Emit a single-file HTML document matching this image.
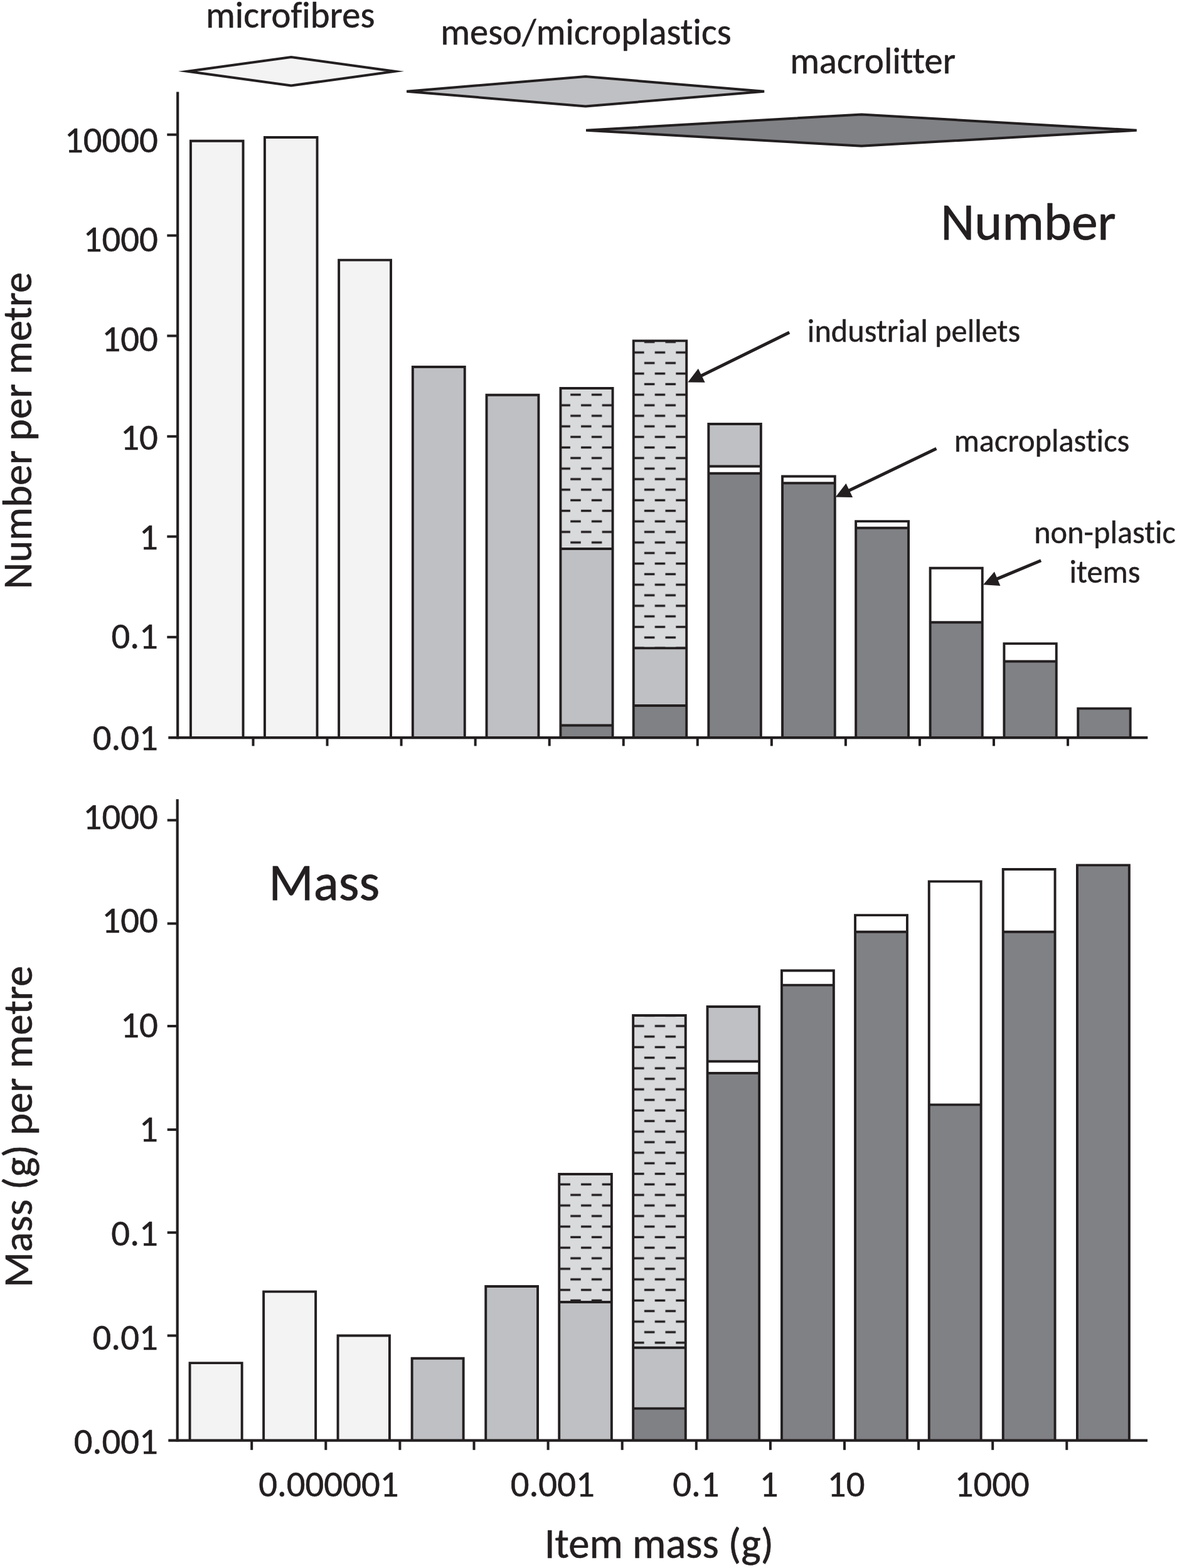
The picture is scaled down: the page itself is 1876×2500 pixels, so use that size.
<!DOCTYPE html><html><head><meta charset="utf-8"><title>Number and mass of litter items per metre by item mass</title><style>html,body{margin:0;padding:0;background:#fff;}svg{display:block;} text{font-variant-ligatures:none;font-kerning:normal;stroke:#231f20;stroke-linejoin:round;}</style></head><body>
<svg width="1876" height="2500" viewBox="0 0 1876 2500" font-family="Carlito, 'Liberation Sans', Arial, sans-serif" fill="#231f20">
<defs>
<pattern id="patT" patternUnits="userSpaceOnUse" x="909.10" y="620.90" width="33.62" height="33.66"><rect width="33.62" height="33.66" fill="#d9dadc"/><rect x="0.15" y="6.65" width="16.5" height="3.5" fill="#231f20"/><rect x="16.96" y="23.48" width="16.5" height="3.5" fill="#231f20"/></pattern>
<pattern id="patB" patternUnits="userSpaceOnUse" x="909.10" y="1627.50" width="33.62" height="33.66"><rect width="33.62" height="33.66" fill="#d9dadc"/><rect x="0.15" y="6.65" width="16.5" height="3.5" fill="#231f20"/><rect x="16.96" y="23.48" width="16.5" height="3.5" fill="#231f20"/></pattern>
</defs>
<rect width="1876" height="2500" fill="#fff"/>
<path d="M298.8 113.8L464.1 91.0L629.3 113.8L464.1 136.4Z" fill="#f3f3f3" stroke="#231f20" stroke-width="4.0" stroke-miterlimit="10"/>
<path d="M648.2 145.7L933.3 122.0L1218.1 145.8L933.3 169.5Z" fill="#bfc0c3" stroke="#231f20" stroke-width="4.0" stroke-miterlimit="10"/>
<path d="M934.1 207.8L1373.1 182.4L1811.7 207.8L1373.1 232.8Z" fill="#808185" stroke="#231f20" stroke-width="4.0" stroke-miterlimit="10"/>
<text x="327.94" y="43.80" font-size="58.7" stroke-width="0.53" textLength="269.42" lengthAdjust="spacingAndGlyphs">microfibres</text>
<text x="702.14" y="70.80" font-size="58.7" stroke-width="0.53" textLength="463.55" lengthAdjust="spacingAndGlyphs">meso/microplastics</text>
<text x="1259.14" y="116.80" font-size="58.8" stroke-width="0.53" textLength="263.97" lengthAdjust="spacingAndGlyphs">macrolitter</text>
<rect x="303.95" y="224.75" width="83.60" height="951.45" fill="#f3f3f3"/>
<path d="M303.95 1176.20V224.75H387.55V1176.20" fill="none" stroke="#231f20" stroke-width="3.9" stroke-linejoin="miter"/>
<rect x="421.95" y="218.95" width="83.60" height="957.25" fill="#f3f3f3"/>
<path d="M421.95 1176.20V218.95H505.55V1176.20" fill="none" stroke="#231f20" stroke-width="3.9" stroke-linejoin="miter"/>
<rect x="540.15" y="414.65" width="82.90" height="761.55" fill="#f3f3f3"/>
<path d="M540.15 1176.20V414.65H623.05V1176.20" fill="none" stroke="#231f20" stroke-width="3.9" stroke-linejoin="miter"/>
<rect x="657.85" y="584.95" width="82.90" height="591.25" fill="#bfc0c3"/>
<path d="M657.85 1176.20V584.95H740.75V1176.20" fill="none" stroke="#231f20" stroke-width="3.9" stroke-linejoin="miter"/>
<rect x="775.55" y="629.75" width="82.90" height="546.45" fill="#bfc0c3"/>
<path d="M775.55 1176.20V629.75H858.45V1176.20" fill="none" stroke="#231f20" stroke-width="3.9" stroke-linejoin="miter"/>
<rect x="893.45" y="619.05" width="83.10" height="255.95" fill="url(#patT)"/>
<rect x="893.45" y="875.00" width="83.10" height="281.50" fill="#bfc0c3"/>
<rect x="893.45" y="1156.50" width="83.10" height="19.70" fill="#808185"/>
<line x1="893.45" x2="976.55" y1="875.00" y2="875.00" stroke="#231f20" stroke-width="3.9"/>
<line x1="893.45" x2="976.55" y1="1156.50" y2="1156.50" stroke="#231f20" stroke-width="3.9"/>
<path d="M893.45 1176.20V619.05H976.55V1176.20" fill="none" stroke="#231f20" stroke-width="3.9" stroke-linejoin="miter"/>
<rect x="1009.75" y="543.35" width="84.50" height="490.05" fill="url(#patT)"/>
<rect x="1009.75" y="1033.40" width="84.50" height="91.60" fill="#bfc0c3"/>
<rect x="1009.75" y="1125.00" width="84.50" height="51.20" fill="#808185"/>
<line x1="1009.75" x2="1094.25" y1="1033.40" y2="1033.40" stroke="#231f20" stroke-width="3.9"/>
<line x1="1009.75" x2="1094.25" y1="1125.00" y2="1125.00" stroke="#231f20" stroke-width="3.9"/>
<path d="M1009.75 1176.20V543.35H1094.25V1176.20" fill="none" stroke="#231f20" stroke-width="3.9" stroke-linejoin="miter"/>
<rect x="1129.35" y="676.05" width="83.50" height="67.45" fill="#bfc0c3"/>
<rect x="1129.35" y="743.50" width="83.50" height="11.30" fill="#ffffff"/>
<rect x="1129.35" y="754.80" width="83.50" height="421.40" fill="#808185"/>
<line x1="1129.35" x2="1212.85" y1="743.50" y2="743.50" stroke="#231f20" stroke-width="3.9"/>
<line x1="1129.35" x2="1212.85" y1="754.80" y2="754.80" stroke="#231f20" stroke-width="3.9"/>
<path d="M1129.35 1176.20V676.05H1212.85V1176.20" fill="none" stroke="#231f20" stroke-width="3.9" stroke-linejoin="miter"/>
<rect x="1247.05" y="759.55" width="83.70" height="10.65" fill="#ffffff"/>
<rect x="1247.05" y="770.20" width="83.70" height="406.00" fill="#808185"/>
<line x1="1247.05" x2="1330.75" y1="770.20" y2="770.20" stroke="#231f20" stroke-width="3.9"/>
<path d="M1247.05 1176.20V759.55H1330.75V1176.20" fill="none" stroke="#231f20" stroke-width="3.9" stroke-linejoin="miter"/>
<rect x="1364.15" y="831.15" width="83.90" height="10.55" fill="#ffffff"/>
<rect x="1364.15" y="841.70" width="83.90" height="334.50" fill="#808185"/>
<line x1="1364.15" x2="1448.05" y1="841.70" y2="841.70" stroke="#231f20" stroke-width="3.9"/>
<path d="M1364.15 1176.20V831.15H1448.05V1176.20" fill="none" stroke="#231f20" stroke-width="3.9" stroke-linejoin="miter"/>
<rect x="1482.65" y="905.75" width="83.10" height="86.45" fill="#ffffff"/>
<rect x="1482.65" y="992.20" width="83.10" height="184.00" fill="#808185"/>
<line x1="1482.65" x2="1565.75" y1="992.20" y2="992.20" stroke="#231f20" stroke-width="3.9"/>
<path d="M1482.65 1176.20V905.75H1565.75V1176.20" fill="none" stroke="#231f20" stroke-width="3.9" stroke-linejoin="miter"/>
<rect x="1600.45" y="1026.15" width="83.30" height="28.35" fill="#ffffff"/>
<rect x="1600.45" y="1054.50" width="83.30" height="121.70" fill="#808185"/>
<line x1="1600.45" x2="1683.75" y1="1054.50" y2="1054.50" stroke="#231f20" stroke-width="3.9"/>
<path d="M1600.45 1176.20V1026.15H1683.75V1176.20" fill="none" stroke="#231f20" stroke-width="3.9" stroke-linejoin="miter"/>
<rect x="1718.25" y="1129.65" width="83.40" height="46.55" fill="#808185"/>
<path d="M1718.25 1176.20V1129.65H1801.65V1176.20" fill="none" stroke="#231f20" stroke-width="3.9" stroke-linejoin="miter"/>
<line x1="283.2" y1="146.5" x2="283.2" y2="1178.2" stroke="#231f20" stroke-width="4.2"/>
<line x1="268.3" y1="1176.2" x2="1829.3" y2="1176.2" stroke="#231f20" stroke-width="4.2"/>
<line x1="266.3" y1="214.7" x2="283.2" y2="214.7" stroke="#231f20" stroke-width="4.0"/>
<line x1="266.3" y1="375.5" x2="283.2" y2="375.5" stroke="#231f20" stroke-width="4.0"/>
<line x1="266.3" y1="535.5" x2="283.2" y2="535.5" stroke="#231f20" stroke-width="4.0"/>
<line x1="266.3" y1="695.8" x2="283.2" y2="695.8" stroke="#231f20" stroke-width="4.0"/>
<line x1="266.3" y1="855.5" x2="283.2" y2="855.5" stroke="#231f20" stroke-width="4.0"/>
<line x1="266.3" y1="1015.8" x2="283.2" y2="1015.8" stroke="#231f20" stroke-width="4.0"/>
<line x1="403.50" y1="1176.2" x2="403.50" y2="1189.4" stroke="#231f20" stroke-width="4.0"/>
<line x1="521.55" y1="1176.2" x2="521.55" y2="1189.4" stroke="#231f20" stroke-width="4.0"/>
<line x1="639.60" y1="1176.2" x2="639.60" y2="1189.4" stroke="#231f20" stroke-width="4.0"/>
<line x1="757.65" y1="1176.2" x2="757.65" y2="1189.4" stroke="#231f20" stroke-width="4.0"/>
<line x1="875.70" y1="1176.2" x2="875.70" y2="1189.4" stroke="#231f20" stroke-width="4.0"/>
<line x1="993.75" y1="1176.2" x2="993.75" y2="1189.4" stroke="#231f20" stroke-width="4.0"/>
<line x1="1111.80" y1="1176.2" x2="1111.80" y2="1189.4" stroke="#231f20" stroke-width="4.0"/>
<line x1="1229.85" y1="1176.2" x2="1229.85" y2="1189.4" stroke="#231f20" stroke-width="4.0"/>
<line x1="1347.90" y1="1176.2" x2="1347.90" y2="1189.4" stroke="#231f20" stroke-width="4.0"/>
<line x1="1465.95" y1="1176.2" x2="1465.95" y2="1189.4" stroke="#231f20" stroke-width="4.0"/>
<line x1="1584.00" y1="1176.2" x2="1584.00" y2="1189.4" stroke="#231f20" stroke-width="4.0"/>
<line x1="1702.05" y1="1176.2" x2="1702.05" y2="1189.4" stroke="#231f20" stroke-width="4.0"/>
<text x="102.89" y="243.00" font-size="58.8" stroke-width="0.53" textLength="149.01" lengthAdjust="spacingAndGlyphs">10000</text>
<text x="132.69" y="401.40" font-size="58.8" stroke-width="0.53" textLength="119.21" lengthAdjust="spacingAndGlyphs">1000</text>
<text x="162.49" y="559.80" font-size="58.8" stroke-width="0.53" textLength="89.41" lengthAdjust="spacingAndGlyphs">100</text>
<text x="192.30" y="717.40" font-size="58.8" stroke-width="0.53" textLength="59.60" lengthAdjust="spacingAndGlyphs">10</text>
<text x="222.10" y="875.70" font-size="58.8" stroke-width="0.53" textLength="29.80" lengthAdjust="spacingAndGlyphs">1</text>
<text x="177.45" y="1033.70" font-size="58.8" stroke-width="0.53" textLength="74.45" lengthAdjust="spacingAndGlyphs">0.1</text>
<text x="147.65" y="1196.00" font-size="58.8" stroke-width="0.53" textLength="104.25" lengthAdjust="spacingAndGlyphs">0.01</text>
<text x="1499.34" y="381.90" font-size="83.6" stroke-width="0.75" textLength="279.33" lengthAdjust="spacingAndGlyphs">Number</text>
<text x="50.50" y="939.41" font-size="66.3" stroke-width="0.60" textLength="505.47" lengthAdjust="spacingAndGlyphs" transform="rotate(-90 50.50 939.41)">Number per metre</text>
<text x="1286.83" y="545.30" font-size="50.4" stroke-width="0.45" textLength="339.36" lengthAdjust="spacingAndGlyphs">industrial pellets</text>
<line x1="1258.20" y1="530.00" x2="1117.39" y2="599.14" stroke="#231f20" stroke-width="5.0"/>
<path d="M1096.30 609.50L1123.69 609.70L1112.89 587.71Z" fill="#231f20"/>
<text x="1520.65" y="719.60" font-size="50.4" stroke-width="0.45" textLength="279.49" lengthAdjust="spacingAndGlyphs">macroplastics</text>
<line x1="1492.50" y1="715.30" x2="1352.88" y2="782.33" stroke="#231f20" stroke-width="5.0"/>
<path d="M1331.70 792.50L1359.09 792.94L1348.48 770.85Z" fill="#231f20"/>
<text x="1648.20" y="866.00" font-size="50.4" stroke-width="0.45" textLength="225.69" lengthAdjust="spacingAndGlyphs">non-plastic</text>
<text x="1704.53" y="929.00" font-size="50.4" stroke-width="0.45" textLength="112.96" lengthAdjust="spacingAndGlyphs">items</text>
<line x1="1659.20" y1="893.70" x2="1588.78" y2="923.14" stroke="#231f20" stroke-width="5.0"/>
<path d="M1567.10 932.20L1594.43 934.05L1584.98 911.45Z" fill="#231f20"/>
<rect x="302.55" y="2173.15" width="83.10" height="123.45" fill="#f3f3f3"/>
<path d="M302.55 2296.60V2173.15H385.65V2296.60" fill="none" stroke="#231f20" stroke-width="3.9" stroke-linejoin="miter"/>
<rect x="420.15" y="2059.35" width="83.00" height="237.25" fill="#f3f3f3"/>
<path d="M420.15 2296.60V2059.35H503.15V2296.60" fill="none" stroke="#231f20" stroke-width="3.9" stroke-linejoin="miter"/>
<rect x="538.55" y="2129.55" width="82.40" height="167.05" fill="#f3f3f3"/>
<path d="M538.55 2296.60V2129.55H620.95V2296.60" fill="none" stroke="#231f20" stroke-width="3.9" stroke-linejoin="miter"/>
<rect x="656.65" y="2165.75" width="82.00" height="130.85" fill="#bfc0c3"/>
<path d="M656.65 2296.60V2165.75H738.65V2296.60" fill="none" stroke="#231f20" stroke-width="3.9" stroke-linejoin="miter"/>
<rect x="774.25" y="2051.05" width="82.80" height="245.55" fill="#bfc0c3"/>
<path d="M774.25 2296.60V2051.05H857.05V2296.60" fill="none" stroke="#231f20" stroke-width="3.9" stroke-linejoin="miter"/>
<rect x="891.25" y="1872.05" width="83.60" height="203.95" fill="url(#patB)"/>
<rect x="891.25" y="2076.00" width="83.60" height="220.60" fill="#bfc0c3"/>
<line x1="891.25" x2="974.85" y1="2076.00" y2="2076.00" stroke="#231f20" stroke-width="3.9"/>
<path d="M891.25 2296.60V1872.05H974.85V2296.60" fill="none" stroke="#231f20" stroke-width="3.9" stroke-linejoin="miter"/>
<rect x="1009.15" y="1618.95" width="83.60" height="529.85" fill="url(#patB)"/>
<rect x="1009.15" y="2148.80" width="83.60" height="96.80" fill="#bfc0c3"/>
<rect x="1009.15" y="2245.60" width="83.60" height="51.00" fill="#808185"/>
<line x1="1009.15" x2="1092.75" y1="2148.80" y2="2148.80" stroke="#231f20" stroke-width="3.9"/>
<line x1="1009.15" x2="1092.75" y1="2245.60" y2="2245.60" stroke="#231f20" stroke-width="3.9"/>
<path d="M1009.15 2296.60V1618.95H1092.75V2296.60" fill="none" stroke="#231f20" stroke-width="3.9" stroke-linejoin="miter"/>
<rect x="1127.55" y="1604.95" width="82.60" height="87.35" fill="#bfc0c3"/>
<rect x="1127.55" y="1692.30" width="82.60" height="18.70" fill="#ffffff"/>
<rect x="1127.55" y="1711.00" width="82.60" height="585.60" fill="#808185"/>
<line x1="1127.55" x2="1210.15" y1="1692.30" y2="1692.30" stroke="#231f20" stroke-width="3.9"/>
<line x1="1127.55" x2="1210.15" y1="1711.00" y2="1711.00" stroke="#231f20" stroke-width="3.9"/>
<path d="M1127.55 2296.60V1604.95H1210.15V2296.60" fill="none" stroke="#231f20" stroke-width="3.9" stroke-linejoin="miter"/>
<rect x="1245.95" y="1547.45" width="82.90" height="23.15" fill="#ffffff"/>
<rect x="1245.95" y="1570.60" width="82.90" height="726.00" fill="#808185"/>
<line x1="1245.95" x2="1328.85" y1="1570.60" y2="1570.60" stroke="#231f20" stroke-width="3.9"/>
<path d="M1245.95 2296.60V1547.45H1328.85V2296.60" fill="none" stroke="#231f20" stroke-width="3.9" stroke-linejoin="miter"/>
<rect x="1363.05" y="1459.15" width="82.90" height="26.65" fill="#ffffff"/>
<rect x="1363.05" y="1485.80" width="82.90" height="810.80" fill="#808185"/>
<line x1="1363.05" x2="1445.95" y1="1485.80" y2="1485.80" stroke="#231f20" stroke-width="3.9"/>
<path d="M1363.05 2296.60V1459.15H1445.95V2296.60" fill="none" stroke="#231f20" stroke-width="3.9" stroke-linejoin="miter"/>
<rect x="1480.75" y="1405.35" width="82.90" height="356.05" fill="#ffffff"/>
<rect x="1480.75" y="1761.40" width="82.90" height="535.20" fill="#808185"/>
<line x1="1480.75" x2="1563.65" y1="1761.40" y2="1761.40" stroke="#231f20" stroke-width="3.9"/>
<path d="M1480.75 2296.60V1405.35H1563.65V2296.60" fill="none" stroke="#231f20" stroke-width="3.9" stroke-linejoin="miter"/>
<rect x="1598.75" y="1385.95" width="82.80" height="99.85" fill="#ffffff"/>
<rect x="1598.75" y="1485.80" width="82.80" height="810.80" fill="#808185"/>
<line x1="1598.75" x2="1681.55" y1="1485.80" y2="1485.80" stroke="#231f20" stroke-width="3.9"/>
<path d="M1598.75 2296.60V1385.95H1681.55V2296.60" fill="none" stroke="#231f20" stroke-width="3.9" stroke-linejoin="miter"/>
<rect x="1716.95" y="1379.35" width="82.90" height="917.25" fill="#808185"/>
<path d="M1716.95 2296.60V1379.35H1799.85V2296.60" fill="none" stroke="#231f20" stroke-width="3.9" stroke-linejoin="miter"/>
<line x1="282.7" y1="1274.3" x2="282.7" y2="2298.6" stroke="#231f20" stroke-width="4.2"/>
<line x1="268.3" y1="2296.6" x2="1829" y2="2296.6" stroke="#231f20" stroke-width="4.2"/>
<line x1="266.7" y1="1307.7" x2="282.7" y2="1307.7" stroke="#231f20" stroke-width="4.0"/>
<line x1="266.7" y1="1472.5" x2="282.7" y2="1472.5" stroke="#231f20" stroke-width="4.0"/>
<line x1="266.7" y1="1636.0" x2="282.7" y2="1636.0" stroke="#231f20" stroke-width="4.0"/>
<line x1="266.7" y1="1801.1" x2="282.7" y2="1801.1" stroke="#231f20" stroke-width="4.0"/>
<line x1="266.7" y1="1965.2" x2="282.7" y2="1965.2" stroke="#231f20" stroke-width="4.0"/>
<line x1="266.7" y1="2129.5" x2="282.7" y2="2129.5" stroke="#231f20" stroke-width="4.0"/>
<line x1="401.20" y1="2296.6" x2="401.20" y2="2311.8" stroke="#231f20" stroke-width="4.0"/>
<line x1="519.30" y1="2296.6" x2="519.30" y2="2311.8" stroke="#231f20" stroke-width="4.0"/>
<line x1="637.40" y1="2296.6" x2="637.40" y2="2311.8" stroke="#231f20" stroke-width="4.0"/>
<line x1="755.50" y1="2296.6" x2="755.50" y2="2311.8" stroke="#231f20" stroke-width="4.0"/>
<line x1="873.60" y1="2296.6" x2="873.60" y2="2311.8" stroke="#231f20" stroke-width="4.0"/>
<line x1="991.70" y1="2296.6" x2="991.70" y2="2311.8" stroke="#231f20" stroke-width="4.0"/>
<line x1="1109.80" y1="2296.6" x2="1109.80" y2="2311.8" stroke="#231f20" stroke-width="4.0"/>
<line x1="1227.90" y1="2296.6" x2="1227.90" y2="2311.8" stroke="#231f20" stroke-width="4.0"/>
<line x1="1346.00" y1="2296.6" x2="1346.00" y2="2311.8" stroke="#231f20" stroke-width="4.0"/>
<line x1="1464.10" y1="2296.6" x2="1464.10" y2="2311.8" stroke="#231f20" stroke-width="4.0"/>
<line x1="1582.20" y1="2296.6" x2="1582.20" y2="2311.8" stroke="#231f20" stroke-width="4.0"/>
<line x1="1700.30" y1="2296.6" x2="1700.30" y2="2311.8" stroke="#231f20" stroke-width="4.0"/>
<text x="132.59" y="1321.80" font-size="58.8" stroke-width="0.53" textLength="119.21" lengthAdjust="spacingAndGlyphs">1000</text>
<text x="162.39" y="1487.40" font-size="58.8" stroke-width="0.53" textLength="89.41" lengthAdjust="spacingAndGlyphs">100</text>
<text x="192.20" y="1653.60" font-size="58.8" stroke-width="0.53" textLength="59.60" lengthAdjust="spacingAndGlyphs">10</text>
<text x="222.00" y="1819.70" font-size="58.8" stroke-width="0.53" textLength="29.80" lengthAdjust="spacingAndGlyphs">1</text>
<text x="177.35" y="1985.60" font-size="58.8" stroke-width="0.53" textLength="74.45" lengthAdjust="spacingAndGlyphs">0.1</text>
<text x="147.55" y="2152.40" font-size="58.8" stroke-width="0.53" textLength="104.25" lengthAdjust="spacingAndGlyphs">0.01</text>
<text x="117.75" y="2317.80" font-size="58.8" stroke-width="0.53" textLength="134.05" lengthAdjust="spacingAndGlyphs">0.001</text>
<text x="428.20" y="1434.70" font-size="83.6" stroke-width="0.75" textLength="176.92" lengthAdjust="spacingAndGlyphs">Mass</text>
<text x="50.60" y="2053.09" font-size="66.6" stroke-width="0.60" textLength="513.29" lengthAdjust="spacingAndGlyphs" transform="rotate(-90 50.60 2053.09)">Mass (g) per metre</text>
<text x="412.13" y="2385.80" font-size="58.8" stroke-width="0.53" textLength="223.46" lengthAdjust="spacingAndGlyphs">0.000001</text>
<text x="813.73" y="2385.80" font-size="58.8" stroke-width="0.53" textLength="134.05" lengthAdjust="spacingAndGlyphs">0.001</text>
<text x="1072.13" y="2385.80" font-size="58.8" stroke-width="0.53" textLength="74.45" lengthAdjust="spacingAndGlyphs">0.1</text>
<text x="1210.76" y="2385.80" font-size="58.8" stroke-width="0.53" textLength="29.80" lengthAdjust="spacingAndGlyphs">1</text>
<text x="1318.86" y="2385.80" font-size="58.8" stroke-width="0.53" textLength="59.60" lengthAdjust="spacingAndGlyphs">10</text>
<text x="1521.65" y="2385.80" font-size="58.8" stroke-width="0.53" textLength="119.21" lengthAdjust="spacingAndGlyphs">1000</text>
<text x="867.79" y="2483.60" font-size="66.8" stroke-width="0.60" textLength="365.18" lengthAdjust="spacingAndGlyphs">Item mass (g)</text>
</svg></body></html>
